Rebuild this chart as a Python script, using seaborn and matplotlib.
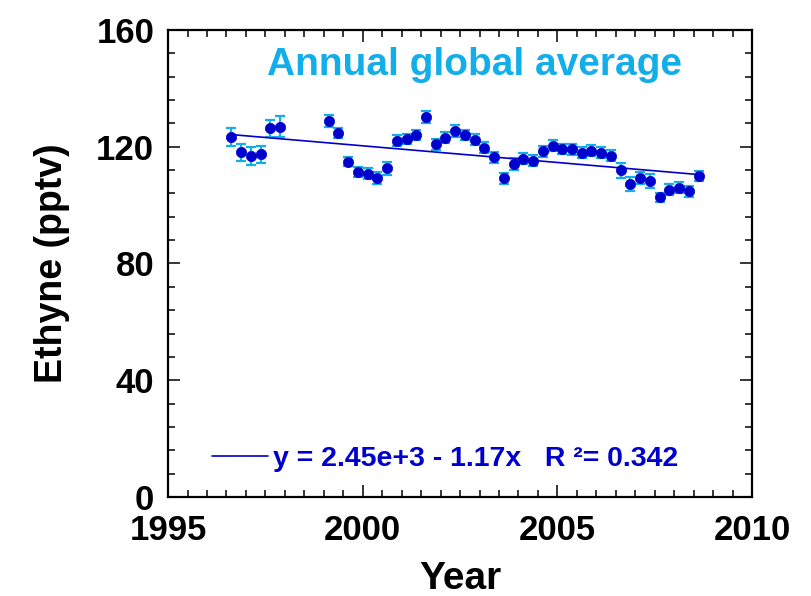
import numpy as np
import pandas as pd
import matplotlib
matplotlib.use("Agg")
import matplotlib.pyplot as plt
import seaborn as sns
from matplotlib.ticker import MultipleLocator

# Quarterly mean ethyne mixing ratios (pptv), annual global average
years = [1996.625, 1996.875, 1997.125, 1997.375, 1997.625, 1997.875,
         1999.125, 1999.375, 1999.625, 1999.875,
         2000.125, 2000.375, 2000.625, 2000.875,
         2001.125, 2001.375, 2001.625, 2001.875,
         2002.125, 2002.375, 2002.625, 2002.875,
         2003.125, 2003.375, 2003.625, 2003.875,
         2004.125, 2004.375, 2004.625, 2004.875,
         2005.125, 2005.375, 2005.625, 2005.875,
         2006.125, 2006.375, 2006.625, 2006.875,
         2007.125, 2007.375, 2007.625, 2007.875,
         2008.125, 2008.375, 2008.625]
ethyne = [123.4, 118.1, 116.9, 117.4, 126.4, 126.9,
          128.7, 124.7, 114.9, 111.4,
          110.8, 109.2, 112.6, 122.0,
          122.6, 124.1, 130.2, 120.8,
          123.1, 125.4, 124.1, 122.4,
          119.7, 116.4, 109.2, 114.1,
          115.9, 115.2, 118.5, 120.4,
          119.2, 119.2, 118.0, 118.6,
          118.0, 116.9, 111.9, 107.1,
          109.3, 108.2, 102.7, 105.3,
          105.9, 104.8, 109.9]
ethyne_err = [3.0, 3.0, 3.0, 3.0, 2.9, 3.5,
              2.1, 1.8, 1.6, 1.8,
              2.0, 2.0, 2.3, 1.9,
              1.7, 1.8, 1.9, 1.9,
              1.9, 1.9, 1.7, 1.8,
              1.9, 1.9, 1.9, 1.9,
              1.8, 1.9, 1.9, 1.9,
              1.8, 1.9, 1.9, 1.9,
              1.9, 1.9, 2.6, 2.4,
              2.2, 2.3, 1.6, 1.8,
              1.9, 1.9, 1.7]

x_ticks = [1995, 2000, 2005, 2010]
y_ticks = [0, 40, 80, 120, 160]

fit_label = "y = 2.45e+3 - 1.17x   R \u00b2= 0.342"
title_text = "Annual global average"

df = pd.DataFrame({"Year": years, "Ethyne": ethyne, "err": ethyne_err})

sns.set_theme(style="ticks")
plt.rcParams["font.family"] = ["Liberation Sans", "DejaVu Sans"]
plt.rcParams["font.weight"] = "bold"
for key in ("text.color", "axes.labelcolor", "xtick.color", "ytick.color",
            "xtick.labelcolor", "ytick.labelcolor"):
    plt.rcParams[key] = "black"

DOT = "#0000CC"
BAR = "#12AEEA"

fig = plt.figure(figsize=(8.11, 5.96), dpi=100)
ax = fig.add_axes([0.2072, 0.1661, 0.7201, 0.7836])

ax.errorbar(df["Year"], df["Ethyne"], yerr=df["err"], fmt="none",
            ecolor=BAR, elinewidth=1.6, capsize=3.8, capthick=1.6, zorder=2)

sns.regplot(data=df, x="Year", y="Ethyne", scatter=False, ci=None, ax=ax,
            line_kws={"color": DOT, "lw": 1.2, "zorder": 3}, label=fit_label)

sns.scatterplot(data=df, x="Year", y="Ethyne", ax=ax, color=DOT, s=55,
                edgecolor=DOT, linewidth=0.5, zorder=4, legend=False)

ax.set_xlim(1995, 2010)
ax.set_ylim(0, 160)
ax.set_xticks(x_ticks)
ax.set_yticks(y_ticks)
ax.xaxis.set_minor_locator(MultipleLocator(0.5))
ax.yaxis.set_minor_locator(MultipleLocator(8))
ax.tick_params(which="both", direction="in", top=True, right=True,
               color="black", width=1.1)
ax.tick_params(which="major", length=8.5, labelsize=25)
ax.tick_params(axis="x", which="major", pad=12.5)
ax.tick_params(axis="y", which="major", pad=10)
ax.tick_params(which="minor", length=5)
for lab in ax.get_xticklabels() + ax.get_yticklabels():
    lab.set_fontweight("bold")
for sp in ax.spines.values():
    sp.set_visible(True)
    sp.set_linewidth(1.6)
    sp.set_color("black")

ax.set_xlabel("Year", fontsize=28, fontweight="bold", labelpad=10)
ax.set_ylabel("Ethyne (pptv)", fontsize=27, fontweight="bold", labelpad=19)

ax.text(0.524, 0.925, title_text, transform=ax.transAxes, ha="center",
        va="center", fontsize=28, fontweight="bold", color=BAR)

leg = ax.legend(loc="lower left", bbox_to_anchor=(0.055, 0.03), frameon=False,
                fontsize=20.5, handlelength=2.0, handletextpad=0.15,
                borderaxespad=0)
for t in leg.get_texts():
    t.set_color(DOT)
    t.set_fontweight("bold")

fig.savefig("out.png", dpi=100)
